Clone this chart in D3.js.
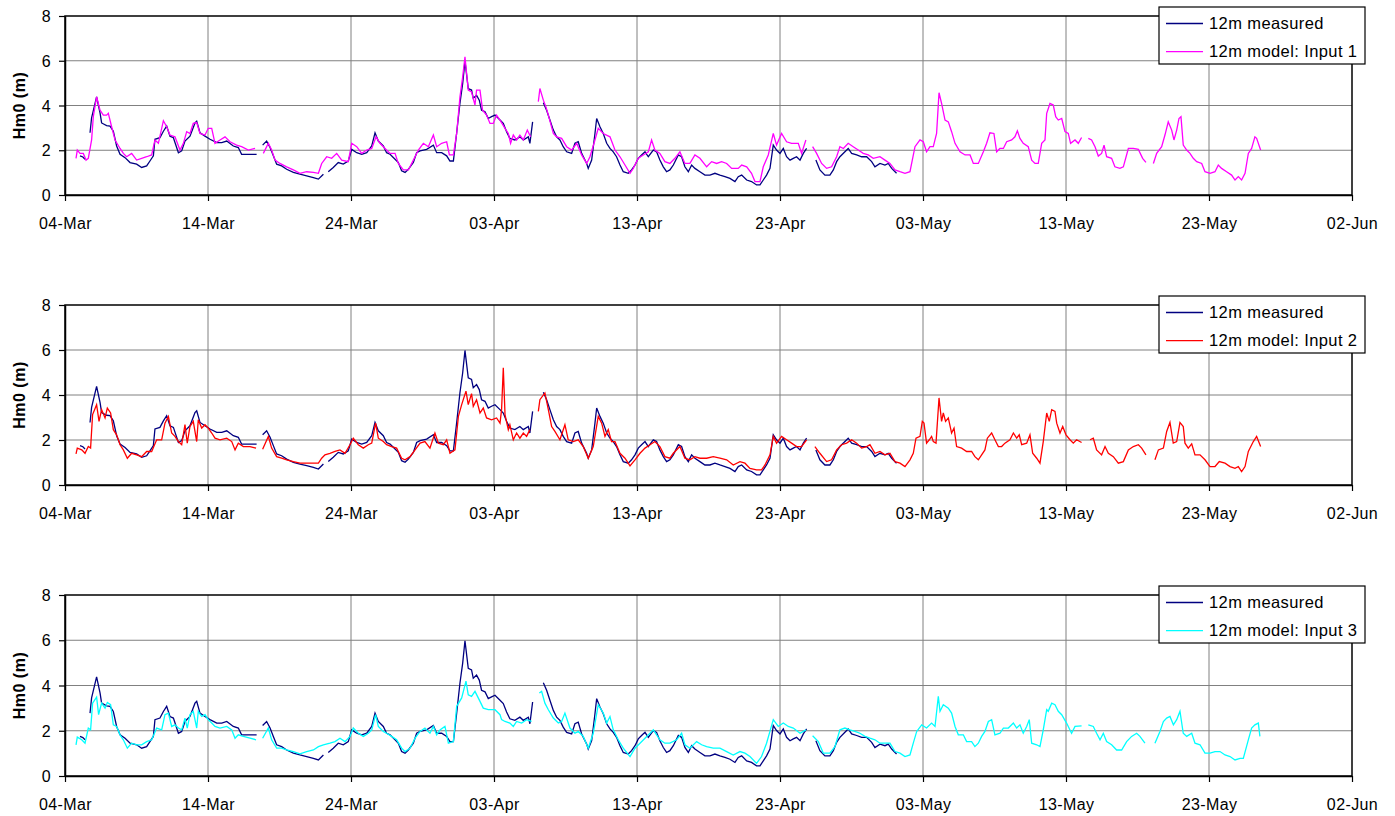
<!DOCTYPE html>
<html lang="en">
<head>
  <meta charset="UTF-8" />
  <title>Hm0 at 12m: measured vs model</title>
  <style>
    body {
      margin: 0;
      background: #fff;
      font-family: 'Liberation Sans', Arial, sans-serif;
    }
    .tick text { font-size: 16px; letter-spacing: 0.4px; fill: #000; }
    .axis path, .axis line { stroke: #000; }
  </style>
</head>
<body>
  <svg id="chart" width="1395" height="816"></svg>

  <script src="https://d3js.org/d3.v7.min.js"></script>
  <script>
    // x ticks every 10 days
    const tickDays = ["2007-03-04", "2007-03-14", "2007-03-24", "2007-04-03", "2007-04-13",
                      "2007-04-23", "2007-05-03", "2007-05-13", "2007-05-23", "2007-06-02"];
    const yTicks = [0, 2, 4, 6, 8];

    // [days after 04-Mar, Hm0 in m]; null = gap in the record
    const measured = [
      [1.05,1.75],[1.25,1.7],[1.4,1.6],null,
      [1.75,2.78],[1.86,3.45],[2.21,4.38],[2.45,3.67],[2.56,3.22],[2.91,3.1],[3.15,3.08],[3.38,2.85],
      [3.61,2.19],[3.85,1.82],[4.2,1.67],[4.55,1.45],[5.01,1.38],[5.36,1.23],[5.71,1.3],[5.94,1.52],
      [6.18,1.75],[6.29,2.49],[6.64,2.56],[6.88,2.85],[7.11,3.08],[7.34,2.63],[7.58,2.56],[7.93,1.89],
      [8.16,1.97],[8.39,2.41],[8.74,2.63],[9.09,3.22],[9.21,3.3],[9.44,2.78],[9.79,2.63],[10.14,2.49],
      [10.61,2.34],[10.96,2.34],[11.31,2.41],[11.77,2.19],[12.12,2.12],[12.35,1.82],[12.82,1.82],[13.4,1.82],null,
      [13.82,2.23],[14.1,2.41],[14.34,2.12],[14.57,1.75],[14.8,1.38],[15.15,1.3],[15.5,1.15],[15.97,1.01],
      [16.43,0.93],[16.9,0.86],[17.37,0.78],[17.72,0.71],[18.07,0.93],null,
      [18.41,1.04],[18.76,1.23],[19.11,1.45],[19.46,1.38],[19.81,1.52],[20.05,2.04],[20.4,1.89],[20.75,1.82],
      [21.1,1.89],[21.45,2.19],[21.68,2.78],[21.91,2.41],[22.26,2.19],[22.49,1.89],[22.73,1.82],[23.08,1.6],
      [23.31,1.45],[23.54,1.08],[23.78,1.01],[24.01,1.15],[24.36,1.45],[24.59,1.89],[24.83,1.97],[25.29,2.04],
      [25.76,2.23],[25.99,1.89],[26.34,1.89],[26.69,1.75],[26.92,1.52],[27.16,1.52],[27.39,2.78],[27.62,4.11],
      [27.81,4.99],[27.97,5.98],[28.2,4.76],[28.43,4.69],[28.55,4.32],[28.78,4.46],[28.97,4.24],[29.13,3.79],
      [29.37,3.72],[29.6,3.42],[29.83,3.5],[30.07,3.57],[30.42,3.35],[30.65,3.2],[30.88,2.83],[31.11,2.53],
      [31.46,2.46],[31.81,2.6],[32.05,2.46],[32.4,2.6],[32.51,2.31],[32.7,3.27],null,
      [33.45,4.12],[33.68,3.79],[33.91,3.35],[34.15,2.9],[34.38,2.6],[34.61,2.46],[34.84,2.16],[35.08,1.93],
      [35.43,1.86],[35.66,2.31],[35.89,2.38],[36.13,1.86],[36.48,1.41],[36.59,1.19],[36.83,1.56],[37.06,2.75],
      [37.18,3.42],[37.41,3.05],[37.64,2.75],[37.88,2.31],[38.11,2.08],[38.34,1.93],[38.57,1.71],[38.81,1.34],
      [39.04,1.04],[39.39,0.97],[39.62,1.12],[39.86,1.34],[40.09,1.64],[40.32,1.79],[40.56,1.93],[40.79,1.71],
      [41.14,2.01],[41.37,1.93],[41.6,1.56],[41.84,1.26],[42.07,1.04],[42.3,1.12],[42.54,1.34],[42.89,1.79],
      [43.12,1.71],[43.35,1.26],[43.59,1.04],[43.82,1.34],[44.05,1.19],[44.4,1.04],[44.75,0.89],[45.1,0.89],
      [45.45,0.97],[45.8,0.89],[46.15,0.82],[46.5,0.74],[46.85,0.6],[47.08,0.82],[47.32,0.89],[47.67,0.67],
      [48.01,0.6],[48.36,0.45],[48.6,0.45],[48.83,0.67],[49.06,0.89],[49.3,1.19],[49.53,2.23],[49.76,2.01],
      [50.0,1.86],[50.23,2.08],[50.46,1.71],[50.7,1.56],[50.93,1.64],[51.16,1.71],[51.4,1.56],[51.63,1.86],
      [51.86,2.08],null,
      [52.51,1.56],[52.79,1.12],[53.14,0.89],[53.49,0.89],[53.73,1.12],[53.96,1.49],[54.19,1.71],[54.54,1.93],
      [54.77,2.08],[55.01,1.86],[55.36,1.79],[55.71,1.71],[56.06,1.71],[56.41,1.49],[56.64,1.26],[56.99,1.41],
      [57.34,1.34],[57.57,1.41],[57.81,1.19],[58.15,0.97]
    ];

    const input1 = [
      [0.77,1.64],[0.86,2.01],[1.05,1.86],[1.28,1.86],[1.47,1.56],[1.63,1.64],[1.86,2.46],[1.98,3.5],
      [2.21,4.39],[2.45,3.79],[2.68,3.57],[2.91,3.57],[3.03,3.65],[3.26,3.05],[3.5,2.46],[3.85,2.08],
      [4.08,1.86],[4.31,1.71],[4.66,1.86],[5.01,1.56],[5.36,1.64],[5.71,1.71],[6.06,1.79],[6.29,2.46],
      [6.53,2.31],[6.88,3.32],[7.11,3.05],[7.34,2.68],[7.69,2.6],[8.04,2.01],[8.28,2.31],[8.51,2.83],
      [8.74,2.75],[8.97,3.2],[9.21,3.24],[9.44,2.75],[9.79,2.68],[10.02,2.98],[10.26,2.98],[10.49,2.31],
      [10.84,2.46],[11.19,2.6],[11.54,2.38],[12.0,2.23],[12.35,2.16],[12.82,2.01],[13.29,2.08],null,
      [13.87,1.86],[14.22,2.31],[14.45,2.01],[14.69,1.56],[15.03,1.41],[15.5,1.26],[15.97,1.12],[16.43,0.97],
      [16.9,1.04],[17.37,1.01],[17.72,0.97],[17.95,1.41],[18.3,1.71],[18.65,1.64],[19.0,1.86],[19.35,1.56],
      [19.81,1.49],[20.05,2.31],[20.4,2.16],[20.75,1.86],[21.1,2.01],[21.45,2.08],[21.75,2.6],[22.03,2.31],
      [22.38,2.08],[22.73,1.86],[23.08,1.86],[23.31,1.41],[23.66,1.12],[24.01,1.12],[24.36,1.56],[24.71,2.01],
      [25.06,2.31],[25.41,2.16],[25.76,2.68],[25.99,2.16],[26.34,2.31],[26.69,2.38],[26.88,1.79],[27.16,1.79],
      [27.39,2.75],[27.62,4.39],[27.81,5.28],[27.97,6.18],[28.2,4.69],[28.43,4.61],[28.67,4.02],[28.78,4.69],
      [29.02,4.69],[29.2,3.79],[29.48,3.57],[29.72,3.2],[29.95,3.2],[30.18,3.57],[30.42,3.35],[30.77,2.98],
      [31.0,2.75],[31.16,2.31],[31.35,2.68],[31.58,2.46],[31.81,2.68],[32.05,2.46],[32.33,2.9],[32.56,2.6],null,
      [33.1,4.17],[33.21,4.76],[33.45,4.24],[33.63,3.94],[33.8,3.57],[34.15,2.75],[34.38,2.6],[34.73,2.53],
      [35.08,2.16],[35.43,2.01],[35.78,2.31],[36.13,1.79],[36.48,1.41],[36.71,1.71],[37.06,2.46],[37.29,2.98],
      [37.64,2.75],[38.11,2.6],[38.46,2.01],[38.81,1.71],[39.16,1.34],[39.51,0.97],[39.74,1.19],[40.09,1.64],
      [40.44,1.79],[40.79,1.93],[41.02,2.46],[41.25,2.01],[41.6,1.86],[41.95,1.49],[42.3,1.41],[42.65,1.64],
      [43.0,1.93],[43.35,1.41],[43.7,1.41],[44.05,1.79],[44.4,1.64],[44.87,1.26],[45.22,1.49],[45.57,1.41],
      [45.92,1.49],[46.27,1.41],[46.62,1.19],[47.08,1.19],[47.32,1.34],[47.67,1.26],[48.01,0.97],[48.25,0.6],
      [48.6,0.6],[48.83,1.26],[49.18,1.79],[49.53,2.75],[49.76,2.23],[50.11,2.75],[50.46,2.38],[50.81,2.31],
      [51.28,2.31],[51.51,1.86],[51.81,2.46],null,
      [52.28,2.16],[52.56,1.86],[52.91,1.41],[53.26,1.19],[53.61,1.26],[53.96,1.71],[54.19,2.16],[54.43,2.08],
      [54.77,2.31],[55.12,2.16],[55.47,2.01],[55.82,1.86],[56.17,1.79],[56.52,1.64],[56.99,1.71],[57.34,1.56],
      [57.69,1.41],[58.04,1.12],[58.39,1.04],[58.74,0.97],[59.09,1.04],[59.44,2.16],[59.79,2.46],[60.02,2.38],
      [60.25,1.93],[60.49,2.16],[60.72,2.16],[60.95,2.75],[61.12,4.57],[61.3,4.09],[61.54,3.35],[61.77,3.27],
      [62.0,2.83],[62.24,2.31],[62.59,1.93],[62.94,1.79],[63.29,1.79],[63.52,1.41],[63.87,1.41],[64.22,1.93],
      [64.45,2.31],[64.68,2.78],[64.96,2.75],[65.15,1.93],[65.38,2.08],[65.62,2.08],[65.85,2.38],[66.2,2.46],
      [66.43,2.6],[66.6,2.87],[66.78,2.53],[67.01,2.31],[67.36,2.16],[67.6,1.56],[67.83,1.41],[68.06,1.41],
      [68.3,2.31],[68.53,2.46],[68.65,3.65],[68.88,4.09],[69.11,4.02],[69.28,3.5],[69.46,3.35],[69.7,3.42],
      [69.93,2.83],[70.16,2.75],[70.32,2.31],[70.63,2.46],[70.86,2.31],[71.09,2.57],null,
      [71.56,2.53],[71.79,2.46],[72.03,2.16],[72.26,1.74],[72.49,1.86],[72.66,2.23],[72.84,1.71],[73.19,1.64],
      [73.42,1.26],[73.77,1.19],[74.01,1.26],[74.36,2.08],[74.71,2.08],[75.06,2.04],[75.36,1.64],[75.59,1.46],null,
      [76.11,1.41],[76.34,1.86],[76.69,2.16],[76.92,2.68],[77.15,3.27],[77.39,2.9],[77.55,2.46],[77.74,2.9],
      [77.9,3.42],[78.04,3.5],[78.2,2.23],[78.44,2.01],[78.67,1.86],[78.9,1.64],[79.14,1.49],[79.49,1.41],
      [79.72,1.04],[80.07,0.97],[80.42,1.04],[80.65,1.34],[80.88,1.19],[81.23,1.04],[81.58,0.89],[81.82,0.67],
      [82.05,0.82],[82.28,0.67],[82.52,0.97],[82.75,1.86],[82.98,2.08],[83.21,2.6],[83.33,2.53],[83.61,2.01]
    ];

    const input2 = [
      [0.77,1.38],[0.86,1.64],[1.17,1.56],[1.4,1.41],[1.63,1.71],[1.79,1.64],[1.93,3.13],[2.21,3.57],
      [2.38,2.83],[2.56,3.35],[2.8,2.98],[2.96,3.42],[3.19,3.2],[3.38,2.46],[3.61,2.23],[3.85,1.79],
      [4.08,1.56],[4.36,1.19],[4.66,1.41],[5.01,1.34],[5.36,1.26],[5.71,1.49],[6.06,1.49],[6.41,2.01],
      [6.76,2.01],[6.99,2.75],[7.23,3.05],[7.46,2.31],[7.69,2.16],[7.93,1.93],[8.16,1.79],[8.39,2.68],
      [8.55,1.86],[8.74,2.6],[8.97,2.83],[9.21,1.93],[9.32,2.9],[9.56,2.53],[9.79,2.68],[10.02,2.53],
      [10.26,2.31],[10.49,2.08],[10.84,2.01],[11.31,2.08],[11.66,1.93],[11.89,1.56],[12.12,1.86],[12.47,1.71],
      [12.94,1.71],[13.36,1.64],null,
      [13.82,1.59],[14.22,2.16],[14.45,1.64],[14.8,1.26],[15.15,1.19],[15.5,1.12],[15.97,1.04],[16.43,0.97],
      [17.13,0.97],[17.72,0.97],[17.95,1.19],[18.18,1.34],[18.53,1.41],[18.88,1.49],[19.23,1.56],[19.58,1.41],
      [19.93,1.79],[20.16,2.08],[20.51,1.79],[20.86,1.64],[21.21,1.79],[21.45,1.86],[21.72,2.75],[21.91,2.08],
      [22.26,1.93],[22.49,1.79],[22.84,1.71],[23.19,1.64],[23.54,1.19],[23.78,1.12],[24.13,1.26],[24.48,1.56],
      [24.83,1.86],[25.17,1.93],[25.52,1.64],[25.87,2.31],[26.11,1.86],[26.46,1.79],[26.69,2.01],[26.92,1.41],
      [27.27,1.56],[27.51,3.05],[27.74,3.57],[28.04,4.17],[28.2,3.57],[28.43,4.06],[28.55,3.5],[28.78,3.79],
      [29.02,3.2],[29.25,3.42],[29.48,2.98],[29.83,2.9],[30.18,2.98],[30.42,2.75],[30.53,3.35],[30.65,5.21],
      [30.77,3.13],[31.0,2.46],[31.11,2.68],[31.35,2.01],[31.58,2.31],[31.81,2.08],[32.05,2.31],[32.28,2.16],
      [32.51,2.46],null,
      [33.1,3.27],[33.21,3.79],[33.56,4.09],[33.8,3.35],[34.03,2.6],[34.26,2.38],[34.61,2.01],[34.96,2.68],
      [35.19,2.01],[35.54,1.93],[35.89,2.01],[36.24,1.71],[36.59,1.19],[36.94,1.71],[37.29,3.05],[37.53,2.75],
      [37.76,2.16],[37.99,2.46],[38.22,1.93],[38.46,1.93],[38.81,1.41],[39.16,1.19],[39.51,0.85],[39.86,1.12],
      [40.21,1.41],[40.56,1.64],[40.91,1.79],[41.25,1.93],[41.6,1.71],[41.95,1.26],[42.3,1.19],[42.54,1.41],
      [43.0,1.71],[43.35,1.19],[43.7,1.12],[44.05,1.26],[44.4,1.19],[44.87,1.19],[45.33,1.26],[45.8,1.19],
      [46.27,1.12],[46.73,0.89],[47.2,1.04],[47.55,0.97],[47.9,0.74],[48.36,0.67],[48.71,0.67],[48.95,0.89],
      [49.3,1.34],[49.53,2.16],[49.76,1.86],[50.11,2.16],[50.46,2.01],[50.81,1.86],[51.16,1.71],[51.51,1.71],
      [51.86,2.01],null,
      [52.44,1.71],[52.79,1.41],[53.26,1.04],[53.61,1.12],[53.96,1.56],[54.31,1.79],[54.66,1.86],[55.01,2.01],
      [55.36,1.86],[55.71,1.64],[56.06,1.71],[56.29,1.79],[56.64,1.41],[56.99,1.49],[57.34,1.34],[57.69,1.41],
      [58.04,1.04],[58.39,0.97],[58.74,0.82],[59.09,1.12],[59.32,1.41],[59.51,2.08],[59.79,2.16],[59.95,2.83],
      [60.07,2.75],[60.25,1.86],[60.44,2.01],[60.6,2.16],[60.72,1.93],[60.91,1.86],[61.12,3.87],[61.3,2.83],
      [61.42,3.2],[61.58,2.83],[61.77,2.98],[62.0,2.31],[62.17,2.53],[62.35,1.71],[62.7,1.64],[63.05,1.49],
      [63.4,1.49],[63.63,1.26],[63.87,1.12],[64.1,1.34],[64.33,1.56],[64.5,2.08],[64.8,2.31],[65.03,2.01],
      [65.27,1.71],[65.5,1.71],[65.73,1.86],[66.08,2.01],[66.32,2.31],[66.55,2.08],[66.73,2.23],[66.9,1.79],
      [67.25,1.86],[67.48,2.23],[67.67,1.41],[67.95,1.19],[68.18,0.97],[68.41,1.93],[68.65,3.2],[68.83,2.83],
      [69.0,3.35],[69.23,3.27],[69.35,2.75],[69.58,2.31],[69.77,2.6],[70.0,2.23],[70.28,2.01],[70.51,1.86],
      [70.74,2.01],[71.09,1.89],null,
      [71.68,2.01],[71.91,2.08],[72.14,1.56],[72.49,1.34],[72.73,1.71],[72.96,1.41],[73.31,1.26],[73.66,0.97],
      [74.01,1.04],[74.36,1.56],[74.71,1.71],[75.06,1.79],[75.29,1.64],[75.59,1.34],null,
      [76.22,1.12],[76.46,1.56],[76.81,1.64],[77.04,2.38],[77.27,2.78],[77.5,1.86],[77.74,1.93],[77.97,2.78],
      [78.2,2.6],[78.32,1.86],[78.55,1.64],[78.79,1.83],[79.02,1.34],[79.37,1.34],[79.72,1.12],[80.07,0.82],
      [80.42,0.82],[80.72,1.04],[81.12,0.97],[81.47,0.82],[81.82,0.74],[82.05,0.82],[82.28,0.6],[82.52,0.82],
      [82.75,1.49],[83.1,1.93],[83.33,2.16],[83.61,1.71]
    ];

    const input3 = [
      [0.77,1.38],[0.86,1.72],[1.17,1.6],[1.4,1.45],[1.63,2.12],[1.79,2.04],[1.93,3.22],[2.21,3.49],
      [2.35,2.71],[2.56,3.22],[2.8,3.0],[2.96,3.25],[3.19,3.15],[3.38,2.26],[3.61,2.19],[3.85,1.82],
      [4.08,1.6],[4.36,1.23],[4.66,1.45],[5.01,1.38],[5.36,1.38],[5.71,1.52],[6.06,1.6],[6.41,2.12],
      [6.76,2.04],[6.99,2.71],[7.23,2.78],[7.46,2.19],[7.69,2.26],[7.93,2.12],[8.16,2.04],[8.39,2.56],
      [8.55,2.12],[8.74,2.71],[8.97,2.86],[9.21,2.12],[9.32,2.86],[9.56,2.63],[9.79,2.71],[10.02,2.49],
      [10.26,2.34],[10.49,2.19],[10.84,2.12],[11.31,2.19],[11.66,2.04],[11.89,1.67],[12.12,1.82],[12.47,1.75],
      [12.94,1.67],[13.36,1.6],null,
      [13.82,1.67],[14.22,2.12],[14.45,1.6],[14.8,1.23],[15.15,1.23],[15.5,1.15],[15.97,1.08],[16.43,0.98],
      [16.9,1.08],[17.37,1.15],[17.72,1.3],[18.07,1.38],[18.53,1.45],[18.88,1.52],[19.23,1.67],[19.58,1.52],
      [19.93,1.75],[20.16,2.12],[20.51,1.89],[20.86,1.75],[21.21,1.89],[21.45,2.04],[21.72,2.71],[21.91,2.19],
      [22.26,1.97],[22.49,1.89],[22.84,1.75],[23.19,1.6],[23.54,1.23],[23.78,1.08],[24.13,1.23],[24.48,1.67],
      [24.83,1.97],[25.17,2.12],[25.52,1.89],[25.76,2.19],[25.99,1.82],[26.22,2.04],[26.57,2.19],[26.81,1.45],
      [27.16,1.52],[27.39,3.08],[27.74,3.45],[28.04,4.19],[28.2,3.59],[28.43,3.52],[28.67,3.74],[29.02,3.3],
      [29.25,3.0],[29.6,2.93],[30.07,2.93],[30.42,2.71],[30.53,2.49],[30.77,2.41],[31.11,2.34],[31.35,2.19],
      [31.58,2.41],[31.93,2.34],[32.28,2.49],[32.63,2.41],null,
      [33.17,3.67],[33.33,3.74],[33.56,3.22],[33.8,2.93],[34.15,2.56],[34.5,2.34],[34.73,2.41],[34.96,2.78],
      [35.31,2.12],[35.66,1.89],[35.89,1.97],[36.24,1.75],[36.59,1.23],[36.94,1.89],[37.29,3.15],[37.64,2.78],
      [37.88,2.34],[38.11,2.63],[38.34,2.04],[38.69,1.6],[39.04,1.23],[39.51,0.86],[39.86,1.23],[40.21,1.45],
      [40.56,1.67],[40.91,1.89],[41.14,2.04],[41.6,1.6],[41.95,1.45],[42.3,1.45],[42.77,1.6],[43.12,1.89],
      [43.35,1.38],[43.7,1.23],[44.17,1.52],[44.52,1.38],[44.87,1.3],[45.33,1.23],[45.8,1.23],[46.27,1.08],
      [46.73,0.93],[47.2,1.08],[47.55,1.01],[47.9,0.86],[48.36,0.56],[48.71,0.86],[49.06,1.45],[49.53,2.49],
      [49.88,2.19],[50.23,2.34],[50.58,2.19],[50.93,2.12],[51.4,1.89],[51.81,2.04],null,
      [52.28,1.78],[52.68,1.52],[53.03,1.01],[53.49,1.01],[53.84,1.3],[54.19,2.04],[54.54,2.12],[54.89,2.04],
      [55.24,1.97],[55.59,1.89],[55.94,1.75],[56.29,1.67],[56.64,1.6],[56.99,1.45],[57.34,1.45],[57.69,1.45],
      [58.04,1.08],[58.39,1.01],[58.74,0.86],[59.09,0.93],[59.32,1.45],[59.56,1.97],[59.91,2.26],[60.25,2.12],
      [60.6,2.34],[60.84,2.19],[61.07,3.52],[61.19,2.86],[61.42,3.15],[61.77,3.0],[62.0,2.78],[62.24,2.19],
      [62.47,1.82],[62.82,1.82],[63.05,1.52],[63.4,1.52],[63.63,1.3],[63.87,1.45],[64.1,1.75],[64.33,1.97],
      [64.57,2.41],[64.8,2.49],[65.03,1.82],[65.38,1.89],[65.62,2.12],[65.97,2.12],[66.32,2.34],[66.55,2.12],
      [66.78,2.26],[67.01,1.89],[67.25,2.19],[67.43,2.49],[67.6,1.45],[67.95,1.38],[68.18,1.3],[68.41,2.04],
      [68.65,2.93],[68.76,2.86],[69.0,3.22],[69.23,3.15],[69.46,2.86],[69.7,2.71],[70.04,2.34],[70.39,1.89],
      [70.63,2.19],[71.09,2.22],null,
      [71.56,2.26],[71.91,2.19],[72.14,1.89],[72.38,1.6],[72.61,1.89],[72.84,1.52],[73.19,1.38],[73.54,1.15],
      [73.89,1.15],[74.24,1.52],[74.59,1.75],[74.94,1.89],[75.17,1.75],[75.52,1.45],null,
      [76.22,1.45],[76.57,1.97],[76.81,2.41],[77.04,2.56],[77.27,2.63],[77.51,2.26],[77.74,2.49],[77.97,2.86],
      [78.2,1.89],[78.44,1.75],[78.79,1.89],[79.02,1.45],[79.37,1.38],[79.72,1.01],[80.07,1.01],[80.42,1.08],
      [80.77,1.08],[81.12,0.93],[81.47,0.86],[81.82,0.71],[82.17,0.78],[82.4,0.78],[82.75,1.6],[82.98,2.12],
      [83.21,2.26],[83.45,2.34],[83.56,1.75]
    ];

    const measuredName = "12m measured";
    const modelNames = ["12m model: Input 1", "12m model: Input 2", "12m model: Input 3"];
    const modelColors = ["#ff00ff", "#ff0000", "#00ffff"];
    const measuredColor = "#000080";

    const parseDay = d3.utcParse("%Y-%m-%d");
    const tickDates = tickDays.map(parseDay);
    const t0 = tickDates[0].getTime();
    const toDate = d => new Date(t0 + d * 864e5);

    const left = 65, right = 1352;
    const x = d3.scaleUtc()
                .domain([tickDates[0], tickDates[tickDates.length - 1]])
                .range([left, right]);

    const panels = [
      { series: input1, top: 16, bottom: 195 },
      { series: input2, top: 305, bottom: 485 },
      { series: input3, top: 595, bottom: 776 }
    ];

    const svg = d3.select("#chart");

    panels.forEach((p, i) => {
      const y = d3.scaleLinear().domain([0, 8]).range([p.bottom, p.top]);
      const g = svg.append("g");

      g.append("clipPath").attr("id", "clip" + i)
       .append("rect")
       .attr("x", left).attr("y", p.top)
       .attr("width", right - left).attr("height", p.bottom - p.top);

      g.append("rect")
       .attr("x", left).attr("y", p.top)
       .attr("width", right - left).attr("height", p.bottom - p.top)
       .attr("fill", "#fff");

      // grid
      g.selectAll(".hgrid")
       .data(yTicks.slice(1, -1))
       .enter().append("line")
       .attr("x1", left).attr("x2", right)
       .attr("y1", d => y(d)).attr("y2", d => y(d))
       .attr("stroke", "#808080").attr("stroke-width", 1);

      g.selectAll(".vgrid")
       .data(tickDates.slice(1, -1))
       .enter().append("line")
       .attr("x1", d => x(d)).attr("x2", d => x(d))
       .attr("y1", p.top).attr("y2", p.bottom)
       .attr("stroke", "#808080").attr("stroke-width", 1);

      const line = d3.line()
                     .defined(d => d !== null)
                     .x(d => x(toDate(d[0])))
                     .y(d => y(d[1]));

      const lines = g.append("g").attr("clip-path", `url(#clip${i})`);
      lines.append("path")
           .datum(measured)
           .attr("d", line)
           .attr("fill", "none")
           .attr("stroke", measuredColor)
           .attr("stroke-width", 1.3);
      lines.append("path")
           .datum(p.series)
           .attr("d", line)
           .attr("fill", "none")
           .attr("stroke", modelColors[i])
           .attr("stroke-width", 1.3);

      // plot border
      g.append("rect")
       .attr("x", left).attr("y", p.top)
       .attr("width", right - left).attr("height", p.bottom - p.top)
       .attr("fill", "none")
       .attr("stroke", "#000").attr("stroke-width", 1.5);

      // axes
      const xAxis = g.append("g")
                     .attr("class", "axis")
                     .attr("transform", `translate(0,${p.bottom})`)
                     .call(d3.axisBottom(x)
                             .tickValues(tickDates)
                             .tickFormat(d3.utcFormat("%d-%b"))
                             .tickSize(6)
                             .tickSizeOuter(0));
      xAxis.select(".domain").attr("stroke-width", 1.5);
      xAxis.selectAll(".tick line").attr("stroke-width", 1.2);
      xAxis.selectAll(".tick text").attr("y", 28).attr("dy", "0.35em");

      const yAxis = g.append("g")
                     .attr("class", "axis")
                     .attr("transform", `translate(${left},0)`)
                     .call(d3.axisLeft(y)
                             .tickValues(yTicks)
                             .tickSize(6)
                             .tickPadding(8)
                             .tickSizeOuter(0));
      yAxis.select(".domain").attr("stroke-width", 1.5);
      yAxis.selectAll(".tick line").attr("stroke-width", 1.2);
      yAxis.selectAll(".tick text").attr("dy", "0.35em");

      g.append("text")
       .attr("transform", `translate(19,${(p.top + p.bottom) / 2}) rotate(-90)`)
       .attr("text-anchor", "middle")
       .attr("dy", "0.35em")
       .style("font-size", "16px")
       .style("font-weight", "bold")
       .style("letter-spacing", "0.5px")
       .text("Hm0 (m)");

      // legend
      const lg = g.append("g").attr("transform", `translate(1159,${p.top - 9})`);
      lg.append("rect")
        .attr("width", 206).attr("height", 57)
        .attr("fill", "#fff")
        .attr("stroke", "#000").attr("stroke-width", 1.2);

      const items = [
        { name: measuredName, color: measuredColor },
        { name: modelNames[i], color: modelColors[i] }
      ];
      items.forEach((it, k) => {
        const yy = 16.5 + k * 28.2;
        lg.append("line")
          .attr("x1", 7).attr("x2", 44)
          .attr("y1", yy).attr("y2", yy)
          .attr("stroke", it.color).attr("stroke-width", 1.3);
        lg.append("text")
          .attr("x", 50).attr("y", yy)
          .attr("dy", "0.35em")
          .style("font-size", "16.5px")
          .style("letter-spacing", "0.4px")
          .text(it.name);
      });
    });
  </script>
</body>
</html>
